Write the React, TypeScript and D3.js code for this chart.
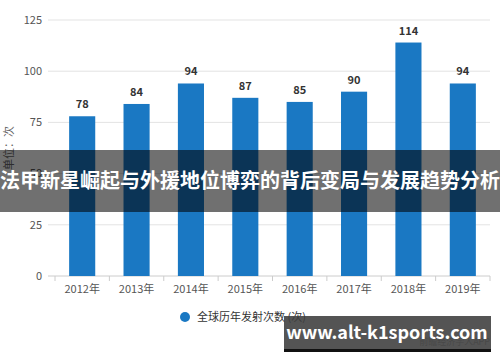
import React from "react";
import * as d3 from "d3";

const years = ["2012年", "2013年", "2014年", "2015年", "2016年", "2017年", "2018年", "2019年"];
const launches = [78, 84, 94, 87, 85, 90, 114, 94];
const yTicks = [0, 25, 50, 75, 100, 125];

const title = "法甲新星崛起与外援地位博弈的背后变局与发展趋势分析";
const legendLabel = "全球历年发射次数 (次)";
const yLabel = "单位：次";
const site = "www.alt-k1sports.com";

const W = 500;
const H = 362;
const font = "'Noto Sans CJK SC', 'Noto Sans', sans-serif";

export default function App() {
  const x = d3.scaleBand<string>().domain(years).range([55, 490]).paddingInner(0.52).paddingOuter(0.26);
  const y = d3.scaleLinear().domain([0, 125]).range([276, 20]);
  const barColor = "#1a78c3";

  return (
    <svg width={W} height={H} style={{ position: "absolute", left: 0, top: 0, background: "#fff" }}>
      {/* grid */}
      {yTicks.map((t) => (
        <g key={t}>
          <line x1={48} x2={490} y1={y(t)} y2={y(t)} stroke={t === 0 ? "#cccccc" : "#e3e3e3"} strokeWidth={1} />
          <text x={42} y={y(t)} dy="0.35em" textAnchor="end" fontSize={11} fill="#555" fontFamily={font}>{t}</text>
        </g>
      ))}
      {/* category ticks */}
      {years.map((yr, i) => (
        <line key={"tk" + yr} x1={55 + i * x.step()} x2={55 + i * x.step()} y1={y(0)} y2={y(0) + 5} stroke="#ccc" />
      ))}
      <line x1={490} x2={490} y1={y(0)} y2={y(0) + 5} stroke="#ccc" />
      <text transform={`translate(13,148) rotate(-90)`} textAnchor="middle" fontSize={11} fill="#666" fontFamily={font}>{yLabel}</text>
      {/* bars */}
      {years.map((yr, i) => (
        <g key={yr}>
          <rect x={x(yr)} y={y(launches[i])} width={x.bandwidth()} height={y(0) - y(launches[i])} fill={barColor} />
          <text x={(x(yr) ?? 0) + x.bandwidth() / 2} y={y(launches[i]) - 8} textAnchor="middle" fontSize={11} fontWeight="bold" fill="#333" fontFamily={font}>{launches[i]}</text>
          <text x={(x(yr) ?? 0) + x.bandwidth() / 2} y={293} textAnchor="middle" fontSize={11} fill="#555" fontFamily={font}>{yr}</text>
        </g>
      ))}
      {/* legend */}
      <circle cx={185} cy={317} r={5} fill={barColor} />
      <text x={197} y={317} dy="0.35em" fontSize={11} fill="#333" fontFamily={font}>{legendLabel}</text>
      {/* banner overlay */}
      <rect x={0} y={150} width={W} height={62} fill="rgba(0,0,0,0.56)" />
      <text x={W / 2} y={181} dy="0.36em" textAnchor="middle" fontSize={20} fontWeight="bold" fill="#fff" fontFamily={font}>{title}</text>
      {/* site box */}
      <text x={490} y={345} textAnchor="end" fontSize={9} fill="#999" fontFamily={font}>前瞻经济学人APP</text>
      <rect x={284} y={316} width={207} height={36} fill="rgba(60,60,60,0.88)" />
      <rect x={284} y={349} width={207} height={3} fill="#111" />
      <text x={387} y={333} dy="0.35em" textAnchor="middle" fontSize={18} fontWeight="bold" fill="#fff" fontFamily={font}>{site}</text>
    </svg>
  );
}
